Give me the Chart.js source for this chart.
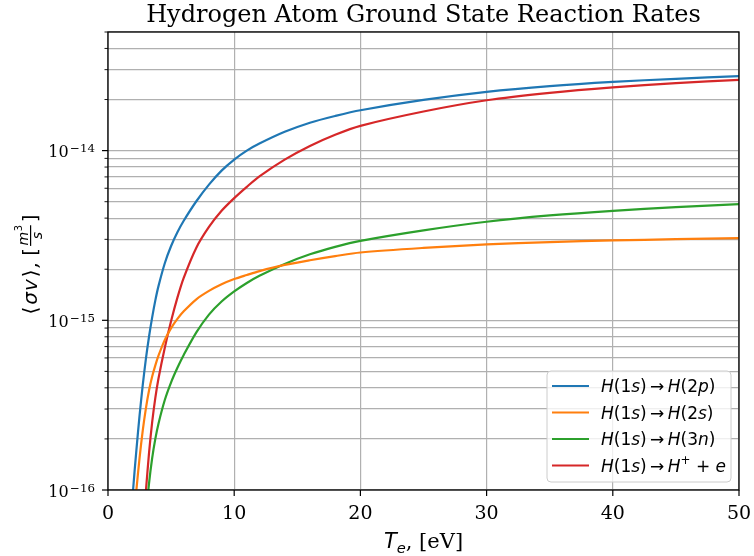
<!DOCTYPE html>
<html>
<head>
<meta charset="utf-8">
<title>Hydrogen Atom Ground State Reaction Rates</title>
<script src="https://cdn.jsdelivr.net/npm/chart.js@4.4.0/dist/chart.umd.min.js"></script>
<style>
  html, body { margin: 0; padding: 0; background: #fff; }
  #wrap { width: 754px; height: 556px; }
</style>
</head>
<body>
<div id="wrap"><canvas id="rates" width="754" height="556"></canvas></div>
<script>
/* ── Data: rate coefficients <σv> in m^3/s vs electron temperature T_e in eV ── */
const TE       = [1.75, 2, 2.25, 2.5, 2.75, 3, 3.25, 3.5, 3.75, 4, 4.5, 5, 5.5, 6, 7, 8, 9, 10, 11, 12, 14, 16, 18, 20, 25, 30, 35, 40, 45, 50];
const RATE_2P  = [5.6e-17, 1.03e-16, 1.72e-16, 2.74e-16, 4.13e-16, 5.9e-16, 8.0e-16, 1.04e-15, 1.31e-15, 1.59e-15, 2.17e-15, 2.74e-15, 3.3e-15, 3.86e-15, 5.03e-15, 6.3e-15, 7.62e-15, 8.85e-15, 1.0e-14, 1.1e-14, 1.29e-14, 1.46e-14, 1.60e-14, 1.73e-14, 1.99e-14, 2.22e-14, 2.40e-14, 2.54e-14, 2.65e-14, 2.75e-14];
const RATE_2S  = [null, 6e-17, 1.0e-16, 1.54e-16, 2.23e-16, 3.02e-16, 3.86e-16, 4.66e-16, 5.43e-16, 6.19e-16, 7.67e-16, 9.0e-16, 1.02e-15, 1.13e-15, 1.33e-15, 1.49e-15, 1.63e-15, 1.75e-15, 1.85e-15, 1.95e-15, 2.12e-15, 2.26e-15, 2.39e-15, 2.51e-15, 2.67e-15, 2.80e-15, 2.89e-15, 2.955e-15, 3.005e-15, 3.05e-15];
const RATE_3N  = [null, null, null, null, null, 6.8e-17, 1.09e-16, 1.54e-16, 2.0e-16, 2.46e-16, 3.39e-16, 4.31e-16, 5.25e-16, 6.25e-16, 8.49e-16, 1.08e-15, 1.29e-15, 1.48e-15, 1.66e-15, 1.83e-15, 2.15e-15, 2.45e-15, 2.71e-15, 2.94e-15, 3.39e-15, 3.81e-15, 4.15e-15, 4.42e-15, 4.64e-15, 4.84e-15];
const RATE_ION = [null, null, null, null, null, 9.8e-17, 1.65e-16, 2.51e-16, 3.49e-16, 4.54e-16, 6.9e-16, 9.9e-16, 1.36e-15, 1.78e-15, 2.68e-15, 3.55e-15, 4.42e-15, 5.25e-15, 6.12e-15, 7.05e-15, 8.85e-15, 1.065e-14, 1.24e-14, 1.40e-14, 1.70e-14, 1.98e-14, 2.19e-14, 2.36e-14, 2.50e-14, 2.61e-14];

const X_TICKS   = [0, 10, 20, 30, 40, 50];
const Y_DECADES = [-16, -15, -14];
const Y_MIN = 1e-16, Y_MAX = 5e-14;
const TITLE = 'Hydrogen Atom Ground State Reaction Rates';

const SERIF  = '"DejaVu Serif", "Liberation Serif", serif';
const SANS   = '"DejaVu Sans", sans-serif';
const COLORS = ['#1f77b4', '#ff7f0e', '#2ca02c', '#d62728'];
const GRID   = '#b0b0b0';

/* ── Rich text (mathtext-ish: italics, sup/sub) ── */
const it  = t => ({ t, it: true });
const rm  = t => ({ t });
const sr  = t => ({ t, serif: true });
const sup = t => ({ t, sup: true });
const sub = t => ({ t, sub: true, it: true });

const ARROW = '\u2009\u2192\u2009';
const LABELS = [
  [it('H'), rm('(1'), it('s'), rm(')'), rm(ARROW), it('H'), rm('(2'), it('p'), rm(')')],
  [it('H'), rm('(1'), it('s'), rm(')'), rm(ARROW), it('H'), rm('(2'), it('s'), rm(')')],
  [it('H'), rm('(1'), it('s'), rm(')'), rm(ARROW), it('H'), rm('(3'), it('n'), rm(')')],
  [it('H'), rm('(1'), it('s'), rm(')'), rm(ARROW), it('H'), sup('+'), rm(' + '), it('e')]
];
const X_LABEL = [it('T'), sub('e'), sr(', [eV]')];

function fontOf(s, size) {
  const sz = (s.sup || s.sub) ? size * 0.7 : size;
  return `${s.it ? 'italic ' : ''}${sz}px ${s.serif ? SERIF : SANS}`;
}
function richWidth(ctx, segs, size) {
  return segs.reduce((w, s) => { ctx.font = fontOf(s, size); return w + ctx.measureText(s.t).width + (s.gap || 0); }, 0);
}
function drawRich(ctx, segs, x, y, size, align = 'left') {
  let cx = align === 'center' ? x - richWidth(ctx, segs, size) / 2 : x;
  ctx.textAlign = 'left'; ctx.textBaseline = 'alphabetic';
  segs.forEach(s => {
    ctx.font = fontOf(s, size);
    const dy = s.sup ? -size * 0.42 : s.sub ? size * 0.22 : 0;
    ctx.fillText(s.t, cx, y + dy);
    cx += ctx.measureText(s.t).width + (s.gap || 0);
  });
  return cx;
}

/* ── Y label: <σv>, [m^3/s] rotated ── */
function drawYLabel(ctx, cx, cy) {
  const size = 20, small = 14;
  const head = [
    { t: '\u27e8', gap: 2 }, { t: '\u03c3', it: true, gap: 1 }, { t: 'v', it: true, gap: 2 },
    { t: '\u27e9', gap: 1 }, sr(', '), { t: '[', gap: 2 }
  ];
  ctx.font = `italic ${small}px ${SANS}`;
  const fracW = ctx.measureText('m').width + 7;
  const total = richWidth(ctx, head, size) + fracW + 4 + richWidth(ctx, [rm(']')], size);
  ctx.save();
  ctx.translate(cx, cy); ctx.rotate(-Math.PI / 2);
  let x = drawRich(ctx, head, -total / 2, 0, size);
  // fraction bar sits on the math axis
  const axis = -size * 0.32;
  ctx.fillRect(x, axis - 0.6, fracW, 1.2);
  ctx.font = `italic ${small}px ${SANS}`;
  const mw = ctx.measureText('m').width;
  ctx.fillText('m', x + 0.5, axis - 3);
  ctx.font = `${small * 0.7}px ${SANS}`;
  ctx.fillText('3', x + mw + 1, axis - 9);
  ctx.font = `italic ${small}px ${SANS}`;
  ctx.fillText('s', x + (fracW - ctx.measureText('s').width) / 2, axis + 11);
  drawRich(ctx, [rm(']')], x + fracW + 3, 0, size);
  ctx.restore();
}

/* ── Frame, ticks, labels, legend ── */
const decor = {
  id: 'decor',
  afterDraw(chart) {
    const { ctx, chartArea: a, scales: { x, y } } = chart;
    ctx.save();
    ctx.fillStyle = '#000'; ctx.strokeStyle = '#000';

    // spines
    ctx.lineWidth = 1.3;
    ctx.strokeRect(a.left, a.top, a.right - a.left, a.bottom - a.top);

    // x ticks + labels
    ctx.lineWidth = 1.2;
    ctx.font = `19px ${SERIF}`; ctx.textAlign = 'center'; ctx.textBaseline = 'alphabetic';
    X_TICKS.forEach(v => {
      const px = x.getPixelForValue(v);
      ctx.beginPath(); ctx.moveTo(px, a.bottom); ctx.lineTo(px, a.bottom + 6); ctx.stroke();
      ctx.fillText(String(v), px, a.bottom + 29);
    });

    // y ticks (major + minor) + decade labels
    y.ticks.forEach(t => {
      const py = y.getPixelForValue(t.value);
      const major = Y_DECADES.some(e => Math.abs(t.value / Math.pow(10, e) - 1) < 1e-6);
      ctx.lineWidth = major ? 1.2 : 0.9;
      ctx.beginPath(); ctx.moveTo(a.left, py); ctx.lineTo(a.left - (major ? 6 : 3.5), py); ctx.stroke();
    });
    Y_DECADES.forEach(e => {
      const py = y.getPixelForValue(Math.pow(10, e));
      const exp = '\u2212' + Math.abs(e);
      ctx.font = `11.8px ${SERIF}`;
      const ew = ctx.measureText(exp).width;
      const right = a.left - 13;
      ctx.textAlign = 'right';
      ctx.fillText(exp, right, py + 1.5);
      ctx.font = `16px ${SERIF}`;
      ctx.fillText('10', right - ew - 1.5, py + 6.5);
    });

    // title + axis labels
    ctx.font = `24px ${SERIF}`; ctx.textAlign = 'center';
    ctx.fillText(TITLE, (a.left + a.right) / 2, 22);
    drawRich(ctx, X_LABEL, (a.left + a.right) / 2, 548, 21, 'center');
    drawYLabel(ctx, 37, (a.top + a.bottom) / 2 + 3);

    // legend
    const L = { x: 547, y: 371, w: 184, h: 111 };
    ctx.beginPath(); ctx.roundRect(L.x, L.y, L.w, L.h, 4);
    ctx.fillStyle = 'rgba(255,255,255,0.8)'; ctx.fill();
    ctx.strokeStyle = '#cccccc'; ctx.lineWidth = 1; ctx.stroke();
    chart.data.datasets.forEach((d, i) => {
      const ry = L.y + 15 + i * 26.5;
      ctx.strokeStyle = d.borderColor; ctx.lineWidth = 2.2;
      ctx.beginPath(); ctx.moveTo(552, ry); ctx.lineTo(589, ry); ctx.stroke();
      ctx.fillStyle = '#000';
      drawRich(ctx, LABELS[i], 601, ry + 6, 17);
    });
    ctx.restore();
  }
};

/* ── Chart ── */
const toPts = vals => TE.map((x, i) => ({ x, y: vals[i] })).filter(p => p.y != null);
const line = (label, vals, color) => ({
  label, data: toPts(vals), borderColor: color, backgroundColor: color,
  borderWidth: 2.2, pointRadius: 0, fill: false, tension: 0.3
});

const yGrid = [];
Y_DECADES.forEach(e => { for (let m = 1; m <= 9; m++) { const v = m * Math.pow(10, e); if (v <= Y_MAX * 1.0001) yGrid.push(v); } });

new Chart(document.getElementById('rates'), {
  type: 'line',
  data: { datasets: [
    line('H(1s) -> H(2p)', RATE_2P, COLORS[0]),
    line('H(1s) -> H(2s)', RATE_2S, COLORS[1]),
    line('H(1s) -> H(3n)', RATE_3N, COLORS[2]),
    line('H(1s) -> H+ + e', RATE_ION, COLORS[3])
  ]},
  options: {
    responsive: false, animation: false, events: [],
    layout: { padding: { top: 32, right: 15, left: 0, bottom: 0 } },
    plugins: { legend: { display: false }, tooltip: { enabled: false }, title: { display: false } },
    scales: {
      x: {
        type: 'linear', min: 0, max: 50,
        ticks: { display: false, stepSize: 10 },
        grid: { color: GRID, lineWidth: 1.2, drawTicks: false },
        border: { display: false },
        afterFit: s => { s.height = 66; }
      },
      y: {
        type: 'logarithmic', min: Y_MIN, max: Y_MAX,
        ticks: { display: false },
        grid: { color: GRID, lineWidth: 1.2, drawTicks: false },
        border: { display: false },
        afterBuildTicks: s => { s.ticks = yGrid.map(v => ({ value: v })); },
        afterFit: s => { s.width = 108; }
      }
    }
  },
  plugins: [decor]
});
</script>
</body>
</html>
